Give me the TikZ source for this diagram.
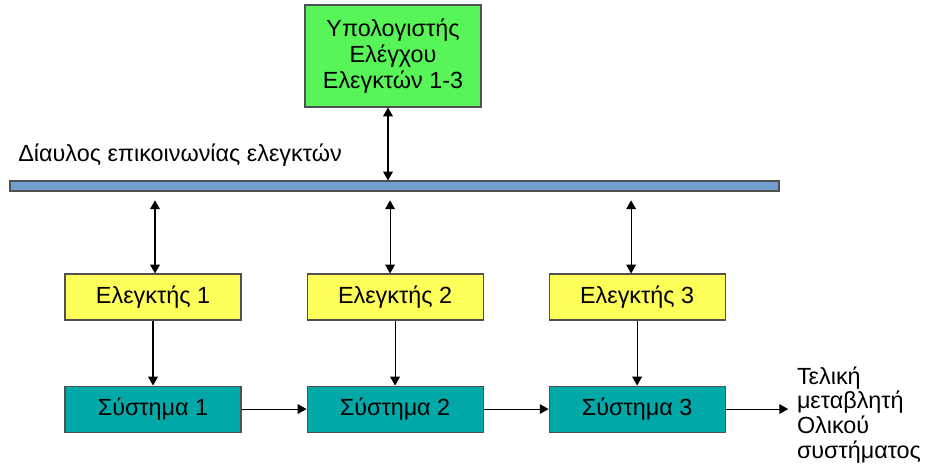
\documentclass[tikz,border=0pt]{standalone}
\usepackage{fontspec}
\setmainfont{Liberation Sans}
\usetikzlibrary{arrows.meta,positioning,shapes}
\usepackage{xcolor}
\definecolor{pcgreen}{RGB}{88,245,88}
\definecolor{ctlyellow}{RGB}{255,255,90}
\definecolor{systeal}{RGB}{0,168,168}
\definecolor{busblue}{RGB}{114,159,207}
\definecolor{edgegray}{RGB}{80,80,80}

\begin{document}
\begin{tikzpicture}[
    node distance=1.3cm,
    box/.style={rectangle,draw=edgegray,line width=0.6pt,minimum width=3.52cm,minimum height=0.92cm,align=center,font=\fontsize{13.3}{15}\selectfont},
    arrow/.style={-{Triangle[length=5pt,width=5.5pt]},line width=0.6pt},
    dblarrow/.style={{Triangle[length=5pt,width=5.5pt]}-{Triangle[length=5pt,width=5.5pt]},line width=0.6pt}
]
\useasboundingbox (0,0) rectangle (18.5,9.36);
\node[box,fill=pcgreen,minimum height=2.04cm] (pc) at (7.86,8.24) {Υπολογιστής\\Ελέγχου\\Ελεγκτών 1-3};
\node[rectangle,draw=edgegray,line width=0.6pt,fill=busblue,minimum width=15.38cm,minimum height=0.2cm,inner sep=0pt] (bus) at (7.89,5.64) {};
\node[anchor=west,font=\fontsize{13.3}{15}\selectfont,inner sep=0pt] (buslabel) at (0.36,6.26) {Δίαυλος επικοινωνίας ελεγκτών};

\node[box,fill=ctlyellow] (ctl1) at (3.06,3.42) {Ελεγκτής 1};
\node[box,fill=ctlyellow,right=of ctl1] (ctl2) {Ελεγκτής 2};
\node[box,fill=ctlyellow,right=of ctl2] (ctl3) {Ελεγκτής 3};

\node[box,fill=systeal,below=1.3cm of ctl1] (sys1) {Σύστημα 1};
\node[box,fill=systeal,below=1.3cm of ctl2] (sys2) {Σύστημα 2};
\node[box,fill=systeal,below=1.3cm of ctl3] (sys3) {Σύστημα 3};

\coordinate[right=1.25cm of sys3] (out);
\node[anchor=west,align=left,inner sep=2pt,yshift=-1.2mm,xshift=1mm,font=\fontsize{13.3}{14.2}\selectfont] (outlabel) at (out) {Τελική\\μεταβλητή\\Ολικού\\συστήματος};

\draw[dblarrow] ([xshift=-1mm]pc.south) -- ([xshift=-1mm]pc.south |- bus.north);
\draw[dblarrow,shorten <=5pt] ([xshift=0.4mm]ctl1.north |- bus.south) -- ([xshift=0.4mm]ctl1.north);
\draw[dblarrow,shorten <=5pt] ([xshift=-1mm]ctl2.north |- bus.south) -- ([xshift=-1mm]ctl2.north);
\draw[dblarrow,shorten <=5pt] ([xshift=-1.2mm]ctl3.north |- bus.south) -- ([xshift=-1.2mm]ctl3.north);
\draw[arrow] (ctl1) -- (sys1);
\draw[arrow] (ctl2) -- (sys2);
\draw[arrow] (ctl3) -- (sys3);
\draw[arrow] (sys1) -- (sys2);
\draw[arrow] (sys2) -- (sys3);
\draw[arrow] (sys3) -- (out);
\end{tikzpicture}
\end{document}
